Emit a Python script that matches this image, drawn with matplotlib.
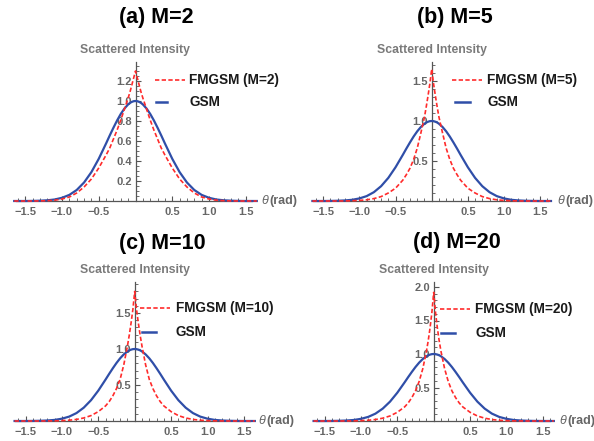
import matplotlib
matplotlib.use("Agg")
import matplotlib.pyplot as plt
from matplotlib.lines import Line2D
from matplotlib.ticker import FixedLocator, MultipleLocator, FuncFormatter

plt.rcParams['font.family'] = ['Liberation Sans', 'DejaVu Sans']

# Scattering angle samples (rad), denser near the peak
theta = [-1.65, -1.5, -1.4, -1.3, -1.2, -1.1, -1.0, -0.9, -0.8, -0.7, -0.6, -0.5,
         -0.4, -0.35, -0.3, -0.25, -0.2, -0.15, -0.1, -0.075, -0.05, -0.025,
         0.0,
         0.025, 0.05, 0.075, 0.1, 0.15, 0.2, 0.25, 0.3, 0.35, 0.4,
         0.5, 0.6, 0.7, 0.8, 0.9, 1.0, 1.1, 1.2, 1.3, 1.4, 1.5, 1.65]

# Gaussian Schell-model source
gsm = [0.0, 0.0, 0.001, 0.003, 0.007, 0.015, 0.032, 0.061, 0.110, 0.185, 0.289, 0.422,
       0.576, 0.656, 0.733, 0.806, 0.871, 0.925, 0.966, 0.981, 0.991, 0.998,
       1.000,
       0.998, 0.991, 0.981, 0.966, 0.925, 0.871, 0.806, 0.733, 0.656, 0.576,
       0.422, 0.289, 0.185, 0.110, 0.061, 0.032, 0.015, 0.007, 0.003, 0.001, 0.0, 0.0]

# Flat-top multi-Gaussian Schell-model sources
fmgsm_m2 = [0.0, 0.0, 0.0, 0.001, 0.003, 0.008, 0.02, 0.04, 0.08, 0.14, 0.22, 0.33,
            0.46, 0.53, 0.62, 0.71, 0.81, 0.92, 1.03, 1.09, 1.16, 1.23,
            1.30,
            1.23, 1.16, 1.09, 1.03, 0.92, 0.81, 0.71, 0.62, 0.53, 0.46,
            0.33, 0.22, 0.14, 0.08, 0.04, 0.02, 0.008, 0.003, 0.001, 0.0, 0.0, 0.0]

fmgsm_m5 = [0.0, 0.0, 0.0, 0.0, 0.001, 0.003, 0.007, 0.015, 0.03, 0.055, 0.10, 0.16,
            0.26, 0.33, 0.41, 0.52, 0.66, 0.85, 1.05, 1.18, 1.32, 1.47,
            1.65,
            1.47, 1.32, 1.18, 1.05, 0.85, 0.66, 0.52, 0.41, 0.33, 0.26,
            0.16, 0.10, 0.055, 0.03, 0.015, 0.007, 0.003, 0.001, 0.0, 0.0, 0.0, 0.0]

fmgsm_m10 = [0.0, 0.0, 0.0, 0.0, 0.001, 0.002, 0.005, 0.011, 0.022, 0.042, 0.075, 0.13,
             0.21, 0.27, 0.35, 0.45, 0.58, 0.78, 1.04, 1.19, 1.36, 1.55,
             1.80,
             1.55, 1.36, 1.19, 1.04, 0.78, 0.58, 0.45, 0.35, 0.27, 0.21,
             0.13, 0.075, 0.042, 0.022, 0.011, 0.005, 0.002, 0.001, 0.0, 0.0, 0.0, 0.0]

fmgsm_m20 = [0.0, 0.0, 0.0, 0.0, 0.001, 0.002, 0.005, 0.011, 0.022, 0.042, 0.075, 0.13,
             0.21, 0.27, 0.35, 0.45, 0.59, 0.78, 1.04, 1.20, 1.39, 1.62,
             1.92,
             1.62, 1.39, 1.20, 1.04, 0.78, 0.59, 0.45, 0.35, 0.27, 0.21,
             0.13, 0.075, 0.042, 0.022, 0.011, 0.005, 0.002, 0.001, 0.0, 0.0, 0.0, 0.0]

titles = ["(a) M=2", "(b) M=5", "(c) M=10", "(d) M=20"]
legend_labels = ["FMGSM (M=2)", "FMGSM (M=5)", "FMGSM (M=10)", "FMGSM (M=20)"]
fmgsm_series = [fmgsm_m2, fmgsm_m5, fmgsm_m10, fmgsm_m20]
x_ticks = [-1.5, -1.0, -0.5, 0.5, 1.0, 1.5]
y_ticks = [[0.2, 0.4, 0.6, 0.8, 1.0, 1.2], [0.5, 1.0, 1.5], [0.5, 1.0, 1.5], [0.5, 1.0, 1.5, 2.0]]

W, H = 594, 441
RED = '#ff2b2b'
BLUE = '#2f4ea8'
AXIS = '#555555'
TICKTXT = '#666666'

# Panel geometry in pixels: y-axis x, baseline y, px per rad, px per unit, xlim, ylim top
layout = [
    dict(x0=135.5, yb=201, sx=73.5, sy=100, xlim=(-1.63, 1.59), ytop=1.39, minor=0.05,
         title=(156, 18), leg_red=(155, 185, 80), leg_blue=(156, 167, 102), txt_x=189),
    dict(x0=431.7, yb=201, sx=72.3, sy=80, xlim=(-1.64, 1.61), ytop=1.74, minor=0.1,
         title=(455, 18), leg_red=(452, 482, 80), leg_blue=(455, 470, 102), txt_x=487),
    dict(x0=134.7, yb=421, sx=72.8, sy=72, xlim=(-1.64, 1.58), ytop=1.93, minor=0.1,
         title=(162, 244), leg_red=(140, 170, 308), leg_blue=(142, 156, 332), txt_x=176),
    dict(x0=433.7, yb=421, sx=72.8, sy=67, xlim=(-1.62, 1.60), ytop=2.08, minor=0.1,
         title=(457, 243), leg_red=(440, 470, 309), leg_blue=(441, 455, 333), txt_x=475),
]

fig = plt.figure(figsize=(W / 100, H / 100), dpi=100)


def fx(px):
    return px / W


def fy(py):
    return 1 - py / H


def tick_fmt(v, _pos):
    s = f"{abs(v):.1f}"
    return ("\u2212" + s) if v < 0 else s


for i, g in enumerate(layout):
    left = g['x0'] + g['xlim'][0] * g['sx']
    right = g['x0'] + g['xlim'][1] * g['sx']
    top = g['yb'] - g['ytop'] * g['sy']
    ax = fig.add_axes([fx(left), fy(g['yb']), fx(right - left), (g['yb'] - top) / H])
    ax.set_xlim(*g['xlim'])
    ax.set_ylim(0, g['ytop'])
    ax.patch.set_alpha(0)

    ax.plot(theta, fmgsm_series[i], color=RED, lw=1.2, dashes=(2.6, 1.4), zorder=4, clip_on=False)
    ax.plot(theta, gsm, color=BLUE, lw=1.6, zorder=3, clip_on=False)

    for s in ('top', 'right'):
        ax.spines[s].set_visible(False)
    ax.spines['left'].set_position(('data', 0))
    ax.spines['bottom'].set_position(('data', 0))
    for s in ('left', 'bottom'):
        ax.spines[s].set_color(AXIS)
        ax.spines[s].set_linewidth(0.9)

    ax.xaxis.set_major_locator(FixedLocator(x_ticks))
    ax.xaxis.set_minor_locator(MultipleLocator(0.1))
    ax.yaxis.set_major_locator(FixedLocator(y_ticks[i]))
    ax.yaxis.set_minor_locator(MultipleLocator(g['minor']))
    ax.xaxis.set_major_formatter(FuncFormatter(tick_fmt))
    ax.yaxis.set_major_formatter(FuncFormatter(tick_fmt))
    ax.tick_params(which='major', direction='in', length=3.5, width=0.8, color=AXIS,
                   labelsize=8, labelcolor=TICKTXT)
    ax.tick_params(axis='x', which='major', pad=4)
    ax.tick_params(axis='y', which='major', pad=2.5)
    ax.tick_params(which='minor', direction='in', length=2, width=0.6, color=AXIS)
    for lab in ax.get_xticklabels() + ax.get_yticklabels():
        lab.set_fontweight('bold')

    # axis titles
    fig.text(fx(g['x0']), fy(top - 12), "Scattered Intensity", ha='center', va='center',
             fontsize=8.8, fontweight='bold', color='#7a7a7a')
    fig.text(fx(right + 9), fy(g['yb']), "\u03b8", ha='left', va='center',
             fontsize=9, style='italic', color='#666666')
    fig.text(fx(right + 17), fy(g['yb']), "(rad)", ha='left', va='center',
             fontsize=9, fontweight='bold', color='#666666')

    # panel title
    fig.text(fx(g['title'][0]), fy(g['title'][1]), titles[i], ha='center', va='center',
             fontsize=15.5, fontweight='bold', color='black')

    # legend
    r0, r1, ry = g['leg_red']
    b0, b1, by = g['leg_blue']
    fig.add_artist(Line2D([fx(r0), fx(r1)], [fy(ry), fy(ry)], color=RED, lw=1.2,
                          dashes=(2.6, 1.4)))
    fig.add_artist(Line2D([fx(b0), fx(b1)], [fy(by), fy(by)], color=BLUE, lw=1.8))
    fig.text(fx(g['txt_x']), fy(ry), legend_labels[i], ha='left', va='center',
             fontsize=9.8, fontweight='bold', color='#1a1a1a')
    fig.text(fx(g['txt_x']), fy(by), "GSM", ha='left', va='center',
             fontsize=9.8, fontweight='bold', color='#1a1a1a')

fig.savefig("out.png", dpi=100, facecolor='white')
